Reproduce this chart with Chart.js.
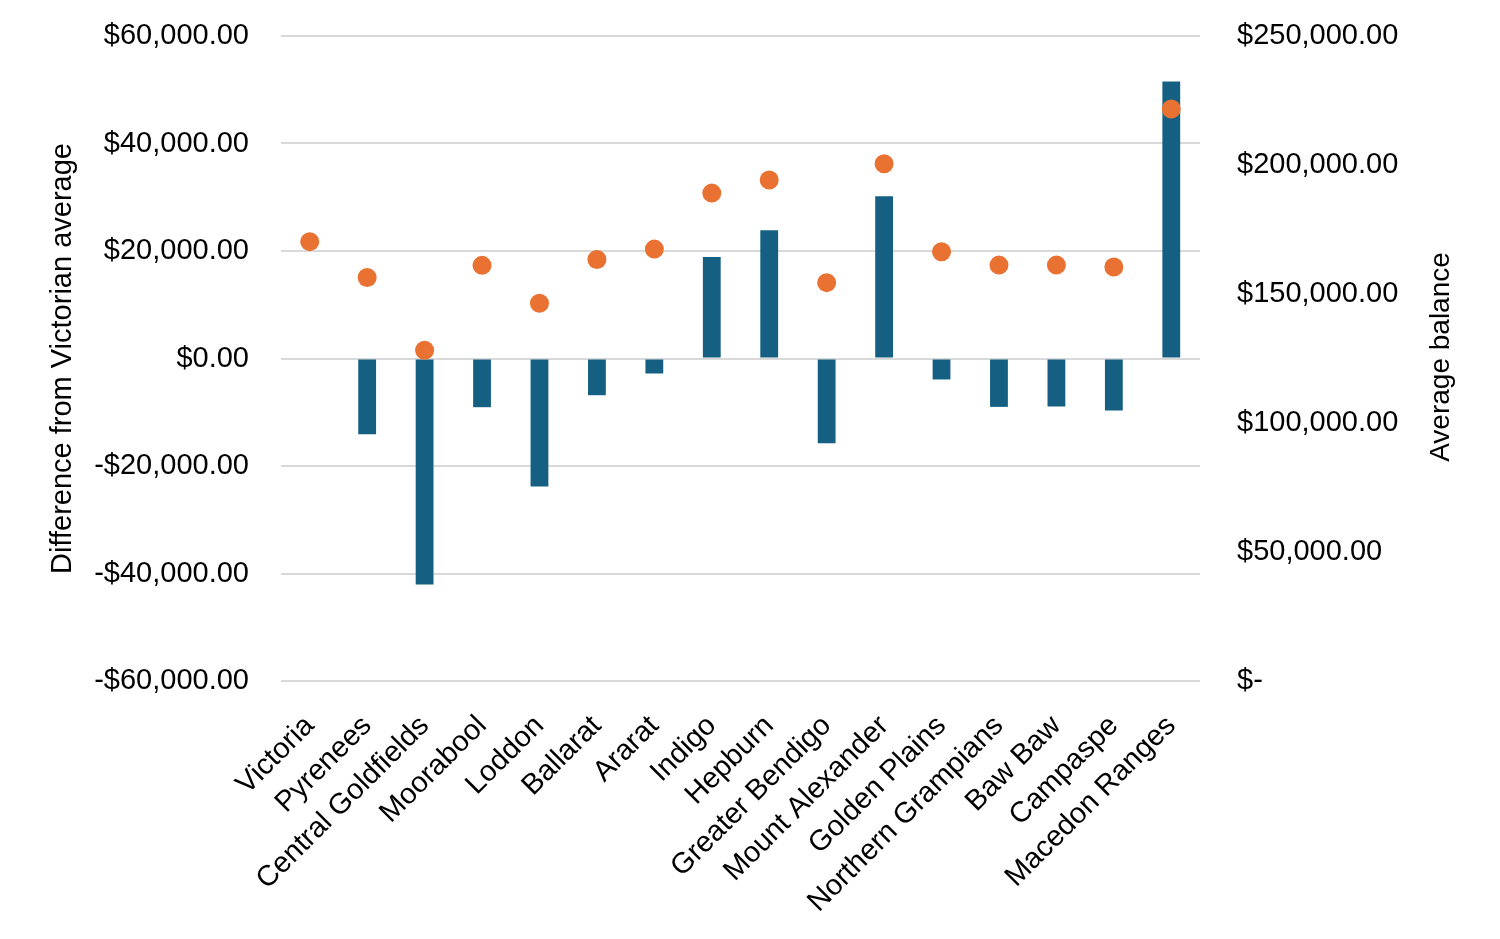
<!DOCTYPE html>
<html>
<head>
<meta charset="utf-8">
<script src="https://cdn.jsdelivr.net/npm/chart.js@4"></script>
<style>
  html, body { margin: 0; padding: 0; background: #fff; }
  #wrap { width: 1500px; height: 939px; }
</style>
</head>
<body>
<div id="wrap"><canvas id="mainChart" width="1500" height="939"></canvas></div>
<script>
const categories = ['Victoria', 'Pyrenees', 'Central Goldfields', 'Moorabool', 'Loddon', 'Ballarat', 'Ararat',
  'Indigo', 'Hepburn', 'Greater Bendigo', 'Mount Alexander', 'Golden Plains', 'Northern Grampians',
  'Baw Baw', 'Campaspe', 'Macedon Ranges'];
const differenceFromVic = [0, -14080, -42030, -9060, -23800, -6830, -2790, 18900, 23860, -15750, 30180,
  -3900, -9000, -8930, -9670, 51520];
const averageBalance = [170300, 156400, 128200, 161100, 146400, 163400, 167400, 189100, 194200, 154400,
  200500, 166400, 161200, 161200, 160500, 221700];

const leftTicks = [-60000, -40000, -20000, 0, 20000, 40000, 60000];
const rightTicks = [0, 50000, 100000, 150000, 200000, 250000];

const FONT = "'Liberation Sans', Arial, sans-serif";

function money(v) {
    const s = Math.abs(v).toLocaleString('en-US', { minimumFractionDigits: 2, maximumFractionDigits: 2 });
    return (v < 0 ? '-' : '') + '$' + s;
}

// right axis title reads bottom-to-top, so draw it ourselves
const rightTitle = {
    id: 'rightTitle',
    afterDraw(chart) {
        const ctx = chart.ctx;
        ctx.save();
        ctx.translate(1441, 357);
        ctx.rotate(-Math.PI / 2);
        ctx.font = '28px ' + FONT;
        ctx.fillStyle = '#000';
        ctx.textAlign = 'center';
        ctx.textBaseline = 'middle';
        ctx.fillText('Average balance', 0, 0);
        ctx.restore();
    }
};

// tick padding would otherwise push the plot area down
function fixVertical(width) {
    return scale => {
        scale.width = width;
        scale.paddingTop = 0;
        scale.paddingBottom = 0;
    };
}

const ctx = document.getElementById('mainChart').getContext('2d');

new Chart(ctx, {
    data: {
        labels: categories,
        datasets: [
            {
                type: 'line',
                label: 'Average balance',
                data: averageBalance,
                yAxisID: 'y2',
                showLine: false,
                pointRadius: 9.5,
                pointBackgroundColor: '#E97132',
                pointBorderWidth: 0,
                order: 0
            },
            {
                type: 'bar',
                label: 'Difference from Victorian average',
                data: differenceFromVic,
                yAxisID: 'y',
                backgroundColor: '#156082',
                barPercentage: 0.31,
                categoryPercentage: 1.0,
                order: 1
            }
        ]
    },
    options: {
        responsive: false,
        animation: false,
        devicePixelRatio: 1,
        layout: { autoPadding: false, padding: { top: 36, right: 0, bottom: 0, left: 0 } },
        plugins: { legend: { display: false }, tooltip: { enabled: false } },
        scales: {
            x: {
                grid: { display: false },
                border: { display: false },
                ticks: {
                    color: '#000',
                    font: { family: FONT, size: 29 },
                    minRotation: 45,
                    maxRotation: 45,
                    padding: 20,
                    autoSkip: false
                },
                afterFit(scale) { scale.height = 258; }
            },
            y: {
                position: 'left',
                min: -60000,
                max: 60000,
                afterBuildTicks(scale) { scale.ticks = leftTicks.map(v => ({ value: v })); },
                grid: { color: '#d9d9d9', lineWidth: 2, drawTicks: false },
                border: { display: false },
                ticks: {
                    color: '#000',
                    font: { family: FONT, size: 29 },
                    padding: 32,
                    callback: v => money(v)
                },
                title: {
                    display: true,
                    text: 'Difference from Victorian average',
                    color: '#000',
                    font: { family: FONT, size: 29 },
                    padding: { top: 46, bottom: 0 }
                },
                afterFit: fixVertical(281)
            },
            y2: {
                position: 'right',
                min: 0,
                max: 250000,
                afterBuildTicks(scale) { scale.ticks = rightTicks.map(v => ({ value: v })); },
                grid: { drawOnChartArea: false, drawTicks: false },
                border: { display: false },
                ticks: {
                    color: '#000',
                    font: { family: FONT, size: 29 },
                    padding: 37,
                    callback: v => v === 0 ? '$-' : money(v)
                },
                afterFit: fixVertical(300)
            }
        }
    },
    plugins: [rightTitle]
});
</script>
</body>
</html>
